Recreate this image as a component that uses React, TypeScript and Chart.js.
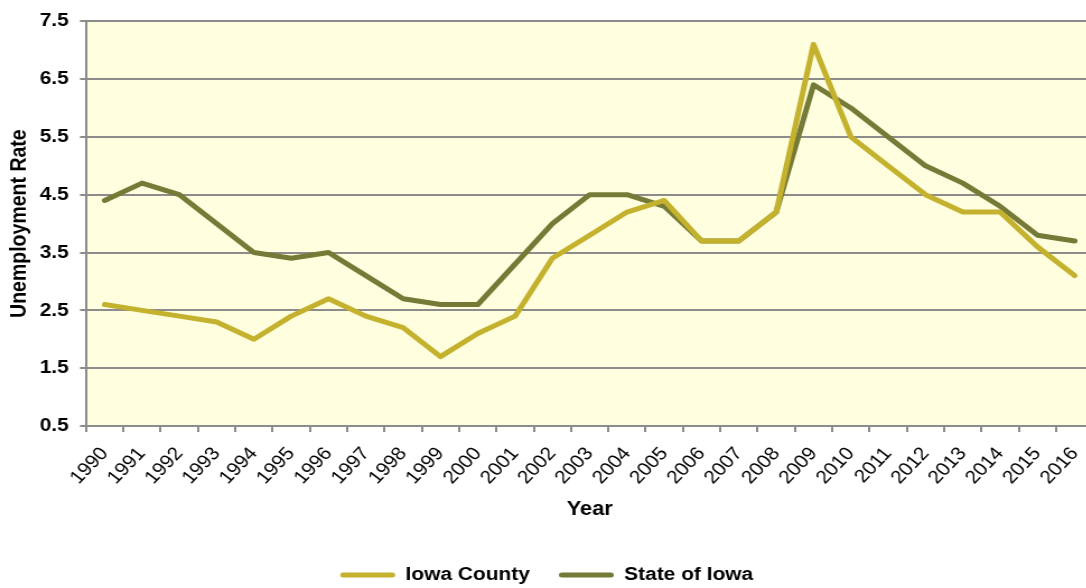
import React, { useEffect, useRef } from "react";
import { Chart, registerables } from "chart.js";

Chart.register(...registerables);

const YEARS = [
  "1990", "1991", "1992", "1993", "1994", "1995", "1996", "1997", "1998", "1999",
  "2000", "2001", "2002", "2003", "2004", "2005", "2006", "2007", "2008", "2009",
  "2010", "2011", "2012", "2013", "2014", "2015", "2016",
];

const IOWA_COUNTY = [
  2.6, 2.5, 2.4, 2.3, 2.0, 2.4, 2.7, 2.4, 2.2, 1.7,
  2.1, 2.4, 3.4, 3.8, 4.2, 4.4, 3.7, 3.7, 4.2, 7.1,
  5.5, 5.0, 4.5, 4.2, 4.2, 3.6, 3.1,
];

const STATE_OF_IOWA = [
  4.4, 4.7, 4.5, 4.0, 3.5, 3.4, 3.5, 3.1, 2.7, 2.6,
  2.6, 3.3, 4.0, 4.5, 4.5, 4.3, 3.7, 3.7, 4.2, 6.4,
  6.0, 5.5, 5.0, 4.7, 4.3, 3.8, 3.7,
];

const Y_TICKS = [0.5, 1.5, 2.5, 3.5, 4.5, 5.5, 6.5, 7.5];

const SERIES_NAMES = ["Iowa County", "State of Iowa"];
const X_TITLE = "Year";
const Y_TITLE = "Unemployment Rate";

const SCALE_X = 1.12;
const INNER_W = 982;
const INNER_H = 600;
const FONT = "'Liberation Sans', Arial, sans-serif";
const GRID = "#8c8c8c";

const bgPlugin = {
  id: "plotBg",
  beforeDraw(chart: any) {
    const { ctx, chartArea } = chart;
    if (!chartArea) return;
    ctx.save();
    ctx.fillStyle = "#FFFFE0";
    ctx.fillRect(chartArea.left, chartArea.top, chartArea.right - chartArea.left, chartArea.bottom - chartArea.top);
    ctx.restore();
  },
};

export default function App() {
  const ref = useRef<HTMLCanvasElement | null>(null);

  useEffect(() => {
    if (!ref.current) return;
    const chart = new Chart(ref.current, {
      type: "line",
      data: {
        labels: YEARS,
        datasets: [
          {
            label: SERIES_NAMES[0],
            data: IOWA_COUNTY,
            borderColor: "#C4B12E",
            backgroundColor: "#C4B12E",
            borderWidth: 5,
            pointRadius: 0,
            tension: 0,
            borderCapStyle: "round",
            borderJoinStyle: "round",
          },
          {
            label: SERIES_NAMES[1],
            data: STATE_OF_IOWA,
            borderColor: "#757B36",
            backgroundColor: "#757B36",
            borderWidth: 5,
            pointRadius: 0,
            tension: 0,
            borderCapStyle: "round",
            borderJoinStyle: "round",
          },
        ],
      },
      options: {
        responsive: false,
        animation: false,
        layout: { padding: { left: 0, top: 17, right: 5.8, bottom: 5.7 } },
        plugins: {
          tooltip: { enabled: false },
          legend: {
            position: "bottom",
            labels: {
              boxWidth: 49,
              boxHeight: 5,
              padding: 26,
              color: "#000",
              useBorderRadius: true,
              borderRadius: 2.5,
              font: { family: FONT, size: 18.67, weight: "bold" },
              generateLabels(chart: any) {
                const items = Chart.defaults.plugins.legend.labels.generateLabels(chart);
                return items.map((it: any) => ({ ...it, lineWidth: 0, fillStyle: it.strokeStyle }));
              },
            },
          },
        },
        scales: {
          x: {
            type: "category",
            offset: true,
            afterFit(scale: any) {
              scale.height = 113.6;
              scale.paddingLeft = 0;
              scale.paddingRight = 0;
            },
            grid: {
              display: true,
              drawOnChartArea: false,
              drawTicks: true,
              tickLength: 6,
              offset: true,
              color: GRID,
              lineWidth: 2,
            },
            border: { display: true, color: GRID, width: 2 },
            ticks: {
              autoSkip: false,
              maxRotation: 49,
              minRotation: 49,
              padding: 11,
              color: "#000",
              font: { family: FONT, size: 18.5 },
            },
            title: {
              display: true,
              text: X_TITLE,
              color: "#000",
              font: { family: FONT, size: 19.5, weight: "bold" },
              padding: { top: 0, bottom: 18 },
            },
          },
          y: {
            min: 0.5,
            max: 7.5,
            afterFit(scale: any) {
              scale.width = 76.8;
            },
            afterBuildTicks(scale: any) {
              scale.ticks = Y_TICKS.map((v) => ({ value: v }));
            },
            grid: {
              color: GRID,
              lineWidth: 2,
              tickLength: 5.4,
              drawTicks: true,
            },
            border: { display: true, color: GRID, width: 2 },
            ticks: {
              padding: 10,
              color: "#000",
              font: { family: FONT, size: 18.67, weight: "bold" },
              callback: (v: any) => Number(v).toFixed(1),
            },
            title: {
              display: true,
              text: Y_TITLE,
              color: "#000",
              font: { family: FONT, size: 19.5, weight: "bold" },
              padding: { top: 6, bottom: 0 },
            },
          },
        },
      },
      plugins: [bgPlugin],
    });
    return () => chart.destroy();
  }, []);

  return (
    <div style={{ position: "fixed", left: 0, top: 0, width: 1086, height: 588, overflow: "hidden", background: "#fff" }}>
      <div style={{ width: INNER_W, height: INNER_H, transform: `scaleX(${SCALE_X})`, transformOrigin: "0 0" }}>
        <canvas ref={ref} width={INNER_W} height={INNER_H} style={{ display: "block" }} />
      </div>
    </div>
  );
}
